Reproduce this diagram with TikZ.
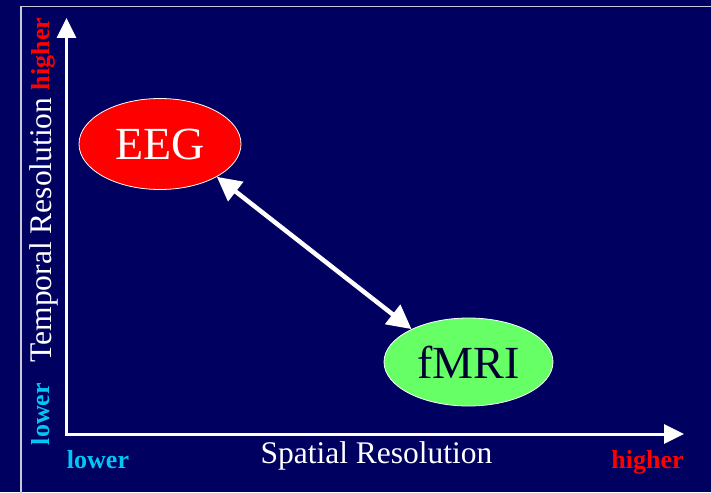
\documentclass[tikz,border=0pt]{standalone}
\usepackage{fontspec}
\setmainfont{Liberation Serif}
\usetikzlibrary{arrows.meta,shapes.geometric}
\definecolor{bg}{RGB}{0,0,96}
\definecolor{eegred}{RGB}{255,0,0}
\definecolor{fmrigreen}{RGB}{102,255,102}
\definecolor{lowcyan}{RGB}{0,200,245}
\definecolor{framegray}{RGB}{200,200,215}
\definecolor{darkink}{RGB}{0,0,50}
\begin{document}
\begin{tikzpicture}[x=1pt,y=-1pt,
  axis/.style={white, line width=3pt, -{Triangle[length=20pt,width=19pt]}},
  blob/.style={ellipse, draw=white, line width=0.8pt, inner sep=0pt},
  big/.style={font=\fontsize{46}{50}\selectfont},
  axlabel/.style={white, font=\fontsize{31.5}{34}\selectfont, anchor=base, inner sep=0pt},
  lowlab/.style={lowcyan, font=\bfseries\fontsize{26}{28}\selectfont, anchor=base, inner sep=0pt},
  highlab/.style={eegred, font=\bfseries\fontsize{26}{28}\selectfont, anchor=base, inner sep=0pt},
]
\fill[bg] (0,0) rectangle (711,492);
\useasboundingbox (0,0) rectangle (711,492);
\draw[framegray, line width=1.5pt] (21,495) -- (21,6.5) -- (715,6.5);
\coordinate (vstart) at (66.5,435.5);
\coordinate (hstart) at (65,434);
\coordinate (ytip) at (66.5,18);
\coordinate (xtip) at (684,434);
\draw[axis] (vstart) -- (ytip);
\draw[axis] (hstart) -- (xtip);
\node[blob, fill=eegred, minimum width=162pt, minimum height=91pt, big, text=white] (eeg) at (160,144) {\raisebox{-3pt}{EEG}};
\node[blob, fill=fmrigreen, minimum width=169pt, minimum height=88pt, big, text=darkink] (fmri) at (468.5,362) {fMRI};
\draw[white, line width=4.5pt, {Triangle[length=24pt,width=24pt]}-{Triangle[length=24pt,width=24pt]}] (eeg.-30) -- (fmri.150);
\node[highlab, rotate=90] (yhigh) at (49,54) {higher};
\node[axlabel, rotate=90] (ylab) at (51,230) {Temporal Resolution};
\node[lowlab, rotate=90] (ylow) at (49,414) {lower};
\node[lowlab] (xlow) at (98,468) {lower};
\node[axlabel] (xlab) at (376.5,463) {Spatial Resolution};
\node[highlab] (xhigh) at (647.5,468) {higher};
\end{tikzpicture}
\end{document}
